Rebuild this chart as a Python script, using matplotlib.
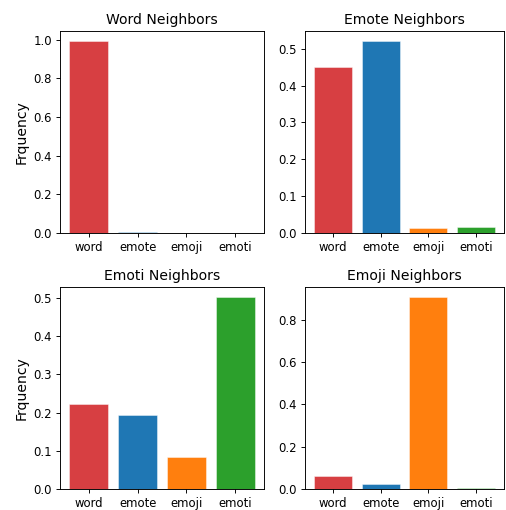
import matplotlib
matplotlib.use('Agg')
import matplotlib.pyplot as plt

# data
categories = ['word', 'emote', 'emoji', 'emoti']
bar_colors = ['#d73f42', '#1f77b4', '#ff7f0e', '#2ca02c']

titles = ['Word Neighbors', 'Emote Neighbors', 'Emoti Neighbors', 'Emoji Neighbors']
word_vals = [0.995, 0.005, 0.002, 0.002]
emote_vals = [0.450, 0.522, 0.013, 0.016]
emoti_vals = [0.221, 0.193, 0.083, 0.503]
emoji_vals = [0.060, 0.025, 0.910, 0.005]
all_vals = [word_vals, emote_vals, emoti_vals, emoji_vals]

W, H = 506, 510
dpi = 84
fig = plt.figure(figsize=(W / dpi, H / dpi), dpi=dpi)

# axes boxes in pixels (left, top, width, height)
boxes = [(60, 31, 204, 202), (305, 31, 199, 202),
         (60, 287, 204, 202), (305, 287, 199, 202)]

for i, (box, title, vals) in enumerate(zip(boxes, titles, all_vals)):
    x0, y0, w, h = box
    ax = fig.add_axes([x0 / W, 1 - (y0 + h) / H, w / W, h / H])
    ax.bar(categories, vals, color=bar_colors,
           edgecolor=(1, 1, 1, 0.6), linewidth=0.6)
    ax.set_title(title, fontsize=12)
    ax.tick_params(labelsize=10)
    if i % 2 == 0:
        ax.set_ylabel('Frquency', fontsize=12)

fig.savefig('out.png', dpi=dpi)
